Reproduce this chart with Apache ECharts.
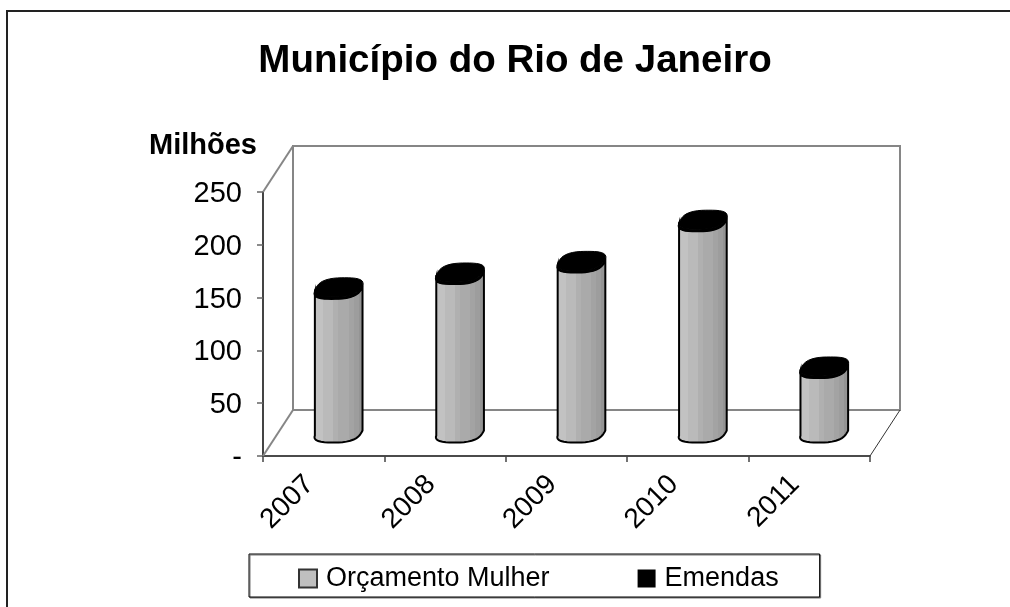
<!DOCTYPE html>
<html>
<head>
<meta charset="utf-8">
<title>Município do Rio de Janeiro</title>
<script src="https://cdn.jsdelivr.net/npm/echarts@6/dist/echarts.min.js"></script>
<style>
    html, body { margin: 0; padding: 0; background: #fff; }
    #main { width: 1010px; height: 607px; }
</style>
</head>
<body>
<div id="main"></div>
<script>
var years = ['2007', '2008', '2009', '2010', '2011'];
var orcamento = [136, 150, 161, 200, 61];
var emendas = [2, 2, 2, 2, 2];

var fontName = '"Liberation Sans", Arial, sans-serif';
// deslocamento da profundidade do grafico 3D
var depthX = 30, depthY = -46;
var skewX = 6;

var myChart = echarts.init(document.getElementById('main'));

// faixas verticais do cilindro, como no original
var bands = ['#c2c2c2', '#c2c2c2', '#bababa', '#bababa', '#b0b0b0', '#aaaaaa', '#aaaaaa', '#a3a3a3', '#9d9d9d', '#949494'];
function bandStops() {
    var stops = [];
    for (var i = 0; i < bands.length; i++) {
        stops.push({ offset: i / bands.length, color: bands[i] });
        stops.push({ offset: (i + 1) / bands.length, color: bands[i] });
    }
    return stops;
}

// ponto na elipse inclinada da base/topo do cilindro
function ringPoint(c, ax, t) {
    var by = 9.5;
    var s2 = Math.sin(2 * t);
    var r = 1 + 0.1 * s2 * s2;
    var cs = r * Math.cos(t), sn = r * Math.sin(t);
    return [c[0] + ax * cs + skewX * sn, c[1] - by * sn];
}

function arc(c, ax, from, to, n) {
    var pts = [];
    for (var i = 0; i <= n; i++) {
        pts.push(ringPoint(c, ax, from + (to - from) * i / n));
    }
    return pts;
}

function center(api, cat, val) {
    var p = api.coord([cat, val]);
    return [p[0] + depthX / 2, p[1] + depthY / 2];
}

function renderBody(params, api) {
    var cat = api.value(0), val = api.value(1);
    var ax = api.size([1, 0])[0] * 0.185;
    var t0 = Math.atan2(skewX, ax);
    var base = center(api, cat, 0), top = center(api, cat, val);
    var pts = arc(base, ax, t0, t0 - Math.PI, 20).concat(arc(top, ax, t0 - Math.PI, t0, 20));
    return {
        type: 'polygon',
        shape: { points: pts },
        style: {
            fill: new echarts.graphic.LinearGradient(0, 0, 1, 0, bandStops()),
            stroke: '#000',
            lineWidth: 2
        }
    };
}

function renderCap(params, api) {
    var cat = api.value(0), val = api.value(1);
    var ax = api.size([1, 0])[0] * 0.185;
    var t0 = Math.atan2(skewX, ax);
    var low = center(api, cat, orcamento[params.dataIndex]);
    var top = center(api, cat, orcamento[params.dataIndex] + val);
    var side = arc(low, ax, t0, t0 - Math.PI, 20).concat(arc(top, ax, t0 - Math.PI, t0, 20));
    var ring = arc(top, ax, 0, Math.PI * 2, 40);
    return {
        type: 'group',
        children: [
            { type: 'polygon', shape: { points: side }, style: { fill: '#000', stroke: '#000', lineWidth: 1 } },
            { type: 'polygon', shape: { points: ring }, style: { fill: '#000', stroke: '#000', lineWidth: 1 } }
        ]
    };
}

// parede do fundo e chao, a partir das escalas dos eixos
function renderWalls(params, api) {
    var half = api.size([1, 0])[0] / 2;
    var first = api.coord([0, 0]), last = api.coord([years.length - 1, 0]), high = api.coord([0, 250]);
    var a = [first[0] - half, first[1]], b = [last[0] + half, last[1]], c = [first[0] - half, high[1]];
    var gray = { stroke: '#868686', lineWidth: 2, fill: null };
    return {
        type: 'group',
        silent: true,
        children: [
            {
                type: 'polygon',
                shape: { points: [[a[0] + depthX, c[1] + depthY], [b[0] + depthX, c[1] + depthY], [b[0] + depthX, a[1] + depthY], [a[0] + depthX, a[1] + depthY]] },
                style: gray
            },
            { type: 'line', shape: { x1: c[0], y1: c[1], x2: c[0] + depthX, y2: c[1] + depthY }, style: gray },
            { type: 'line', shape: { x1: a[0], y1: a[1], x2: a[0] + depthX, y2: a[1] + depthY }, style: gray },
            { type: 'line', shape: { x1: b[0], y1: b[1], x2: b[0] + depthX, y2: b[1] + depthY }, style: { stroke: '#333', lineWidth: 1 } }
        ]
    };
}

function pairs(values) {
    var out = [];
    for (var i = 0; i < values.length; i++) {
        out.push([i, values[i]]);
    }
    return out;
}

var option = {
    animation: false,
    backgroundColor: '#fff',
    textStyle: { fontFamily: fontName },
    title: {
        text: 'Município do Rio de Janeiro',
        left: 510,
        top: 37,
        textAlign: 'center',
        textStyle: { fontFamily: fontName, fontSize: 38.5, fontWeight: 'bold', color: '#000' }
    },
    legend: {
        left: 249,
        top: 554,
        padding: [11, 41, 5, 49],
        itemGap: 88,
        itemWidth: 18,
        itemHeight: 18,
        orient: 'horizontal',
        selectedMode: false,
        backgroundColor: '#fff',
        borderColor: '#000',
        borderWidth: 1,
        shadowColor: '#777',
        shadowOffsetX: 1,
        shadowOffsetY: 1,
        textStyle: { fontFamily: fontName, fontSize: 27, color: '#000', padding: [0, 0, 0, 4] },
        data: [
            { name: 'Orçamento Mulher', icon: 'rect', itemStyle: { color: '#bfbfbf', borderColor: '#333', borderWidth: 2 } },
            { name: 'Emendas', icon: 'rect', itemStyle: { color: '#000', borderColor: '#000', borderWidth: 0 } }
        ]
    },
    grid: { left: 263, right: 140, top: 192, height: 264 },
    xAxis: {
        type: 'category',
        data: years,
        boundaryGap: true,
        axisLine: { lineStyle: { color: '#111', width: 1.5 } },
        axisTick: { show: true, length: 6, alignWithLabel: false, lineStyle: { color: '#444', width: 1.5 } },
        axisLabel: { rotate: 45, margin: 10, padding: [0, 20, 0, 0], interval: 0, color: '#000', fontSize: 28, fontFamily: fontName }
    },
    yAxis: {
        type: 'value',
        min: 0,
        max: 250,
        interval: 50,
        name: 'Milhões',
        nameLocation: 'end',
        nameGap: 32,
        nameTextStyle: { align: 'right', fontFamily: fontName, fontSize: 29, fontWeight: 'bold', color: '#000', padding: [0, 6, 0, 0] },
        splitLine: { show: false },
        axisLine: { show: true, lineStyle: { color: '#444', width: 2 } },
        axisTick: { show: true, length: 6, lineStyle: { color: '#666', width: 1.5 } },
        axisLabel: {
            margin: 21,
            color: '#000',
            fontSize: 29,
            fontFamily: fontName,
            formatter: function (v) { return '{v|' + (v === 0 ? '-' : v) + '}'; },
            rich: { v: { fontSize: 29, fontFamily: fontName, color: '#000', padding: [4, 0, 0, 0] } }
        }
    },
    graphic: [{
        type: 'polyline',
        silent: true,
        shape: { points: [[7, 607], [7, 11], [1010, 11]] },
        style: { stroke: '#222', lineWidth: 2, fill: null }
    }],
    series: [
        { name: 'paredes', type: 'custom', z: 1, silent: true, data: [[0, 0]], renderItem: renderWalls },
        { name: 'Orçamento Mulher', type: 'custom', z: 3, data: pairs(orcamento), encode: { x: 0, y: 1 }, itemStyle: { color: '#bfbfbf' }, renderItem: renderBody },
        { name: 'Emendas', type: 'custom', z: 4, data: pairs(emendas), encode: { x: 0, y: 1 }, itemStyle: { color: '#000' }, renderItem: renderCap }
    ]
};

myChart.setOption(option);
window.onresize = function () {
    myChart.resize();
};
</script>
</body>
</html>
